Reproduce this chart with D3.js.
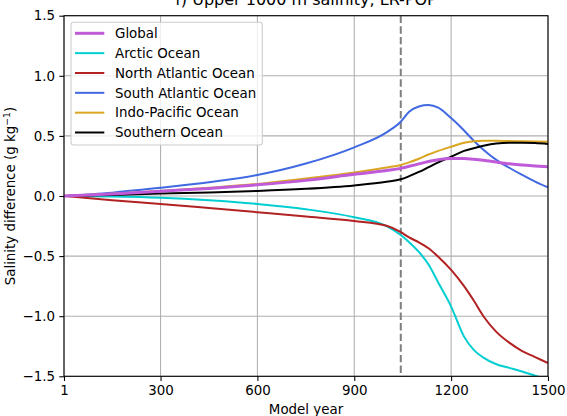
<!DOCTYPE html>
<html>
<head>
<meta charset="utf-8">
<script src="https://cdn.jsdelivr.net/npm/d3@7"></script>
<style>
  html, body { margin: 0; padding: 0; background: #fff; }
  svg { display: block; font-family: "DejaVu Sans", sans-serif; }
</style>
</head>
<body>
<svg id="chart" width="567" height="416"></svg>
<script>
// ---- Data ----
const years = [1, 150, 300, 450, 600, 750, 900, 1000, 1044, 1070, 1100, 1130, 1160, 1200, 1240, 1270, 1300, 1340, 1380, 1420, 1460, 1500];

const globalVals   = [0, 0.017, 0.040, 0.063, 0.093, 0.130, 0.180, 0.212, 0.230, 0.247, 0.267, 0.287, 0.302, 0.312, 0.313, 0.306, 0.297, 0.282, 0.268, 0.257, 0.250, 0.244];
const arcticVals   = [0, -0.004, -0.014, -0.035, -0.066, -0.110, -0.177, -0.250, -0.325, -0.385, -0.465, -0.570, -0.720, -0.920, -1.170, -1.280, -1.345, -1.400, -1.430, -1.460, -1.495, -1.530];
const nAtlVals     = [0, -0.035, -0.066, -0.100, -0.135, -0.170, -0.208, -0.248, -0.300, -0.345, -0.385, -0.435, -0.505, -0.615, -0.750, -0.870, -1.000, -1.130, -1.220, -1.290, -1.340, -1.390];
const sAtlVals     = [0, 0.028, 0.069, 0.115, 0.175, 0.270, 0.405, 0.530, 0.618, 0.700, 0.745, 0.757, 0.735, 0.648, 0.545, 0.460, 0.385, 0.300, 0.235, 0.175, 0.120, 0.072];
const indoPacVals  = [0, 0.018, 0.042, 0.068, 0.100, 0.145, 0.195, 0.237, 0.258, 0.280, 0.310, 0.345, 0.375, 0.410, 0.443, 0.455, 0.460, 0.460, 0.457, 0.455, 0.453, 0.452];
const southernVals = [0, 0.008, 0.020, 0.030, 0.042, 0.060, 0.088, 0.118, 0.139, 0.165, 0.200, 0.240, 0.280, 0.327, 0.375, 0.398, 0.418, 0.437, 0.443, 0.443, 0.440, 0.433];

const seriesNames  = ["Global", "Arctic Ocean", "North Atlantic Ocean", "South Atlantic Ocean", "Indo-Pacific Ocean", "Southern Ocean"];
const seriesValues = [globalVals, arcticVals, nAtlVals, sAtlVals, indoPacVals, southernVals];
const seriesColors = ["#BF5BD8", "#00CED1", "#B22222", "#4169E1", "#DAA520", "#000000"];
const seriesWidths = [3, 2, 2, 2, 2, 2];

const xTicks = [1, 300, 600, 900, 1200, 1500];
const yTicks = [-1.5, -1.0, -0.5, 0.0, 0.5, 1.0, 1.5];
const markerYear = 1044;

const titleText = "f) Upper 1000 m salinity, LR-POP";
const xLabel = "Model year";

// ---- Layout ----
const svg = d3.select("#chart");
const m = { left: 64, right: 548, top: 15.7, bottom: 376.3 };

const x = d3.scaleLinear().domain([1, 1500]).range([m.left, m.right]);
const y = d3.scaleLinear().domain([-1.5, 1.5]).range([m.bottom, m.top]);

svg.append("defs").append("clipPath").attr("id", "clip")
  .append("rect").attr("x", m.left).attr("y", m.top)
  .attr("width", m.right - m.left).attr("height", m.bottom - m.top);

// grid
const grid = svg.append("g");
grid.selectAll(".vg").data(xTicks).join("line")
  .attr("x1", d => x(d)).attr("x2", d => x(d))
  .attr("y1", m.top).attr("y2", m.bottom)
  .attr("stroke", "#b0b0b0").attr("stroke-width", 1.07);
grid.selectAll(".hg").data(yTicks).join("line")
  .attr("y1", d => y(d)).attr("y2", d => y(d))
  .attr("x1", m.left).attr("x2", m.right)
  .attr("stroke", "#b0b0b0").attr("stroke-width", 1.07);

// dashed marker line
svg.append("line")
  .attr("x1", x(markerYear)).attr("x2", x(markerYear))
  .attr("y1", m.top).attr("y2", m.bottom)
  .attr("stroke", "#7f7f7f").attr("stroke-width", 2)
  .attr("stroke-dasharray", "7.4,3.2");

// series lines
const line = d3.line().curve(d3.curveMonotoneX);
const lines = svg.append("g").attr("clip-path", "url(#clip)");
const order = [1, 2, 3, 4, 5, 0];
order.forEach(i => {
  const pts = years.map((yr, j) => [x(yr), y(seriesValues[i][j])]);
  lines.append("path")
    .attr("d", line(pts))
    .attr("fill", "none")
    .attr("stroke", seriesColors[i])
    .attr("stroke-width", seriesWidths[i])
    .attr("stroke-linejoin", "round")
    .attr("stroke-linecap", "butt");
});

// axes
const fmtY = d => (d < 0 ? "\u2212" : "") + Math.abs(d).toFixed(1);
const xAxis = d3.axisBottom(x).tickValues(xTicks).tickSize(4.7).tickPadding(4.2).tickFormat(d3.format("d"));
const yAxis = d3.axisLeft(y).tickValues(yTicks).tickSize(4.7).tickPadding(4.2).tickFormat(fmtY);

const gx = svg.append("g").attr("transform", `translate(0,${m.bottom})`).call(xAxis);
const gy = svg.append("g").attr("transform", `translate(${m.left},0)`).call(yAxis);
[gx, gy].forEach(g => {
  g.select(".domain").remove();
  g.selectAll("line").attr("stroke", "#000").attr("stroke-width", 1.07);
  g.selectAll("text").attr("fill", "#000").attr("font-size", "13.4px")
    .attr("font-family", "DejaVu Sans");
});

// spines
svg.append("rect")
  .attr("x", m.left).attr("y", m.top)
  .attr("width", m.right - m.left).attr("height", m.bottom - m.top)
  .attr("fill", "none").attr("stroke", "#000").attr("stroke-width", 1.07);

// title
svg.append("text")
  .attr("x", (m.left + m.right) / 2).attr("y", 4.5)
  .attr("text-anchor", "middle").attr("font-size", "16px")
  .text(titleText);

// x label
svg.append("text")
  .attr("x", (m.left + m.right) / 2).attr("y", 414)
  .attr("text-anchor", "middle").attr("font-size", "13.4px")
  .text(xLabel);

// y label
const yl = svg.append("text")
  .attr("transform", `translate(14.5,${(m.top + m.bottom) / 2}) rotate(-90)`)
  .attr("text-anchor", "middle").attr("font-size", "13.4px");
yl.append("tspan").text("Salinity difference (g kg");
yl.append("tspan").attr("dy", -5).attr("font-size", "9.4px").text("\u22121");
yl.append("tspan").attr("dy", 5).text(")");

// legend
const lg = svg.append("g");
lg.append("rect")
  .attr("x", 71).attr("y", 22.3).attr("width", 191.3).attr("height", 122.7)
  .attr("rx", 2.7).attr("ry", 2.7)
  .attr("fill", "#fff").attr("fill-opacity", 0.8)
  .attr("stroke", "#cccccc").attr("stroke-width", 1.07);
const rowY = d3.scaleLinear().domain([0, 5]).range([33.3, 132.5]);
seriesNames.forEach((name, i) => {
  lg.append("line")
    .attr("x1", 75).attr("x2", 104.3)
    .attr("y1", rowY(i)).attr("y2", rowY(i))
    .attr("stroke", seriesColors[i]).attr("stroke-width", seriesWidths[i]);
  lg.append("text")
    .attr("x", 115).attr("y", rowY(i)).attr("dy", "0.36em")
    .attr("font-size", "13.4px")
    .text(name);
});
</script>
</body>
</html>
